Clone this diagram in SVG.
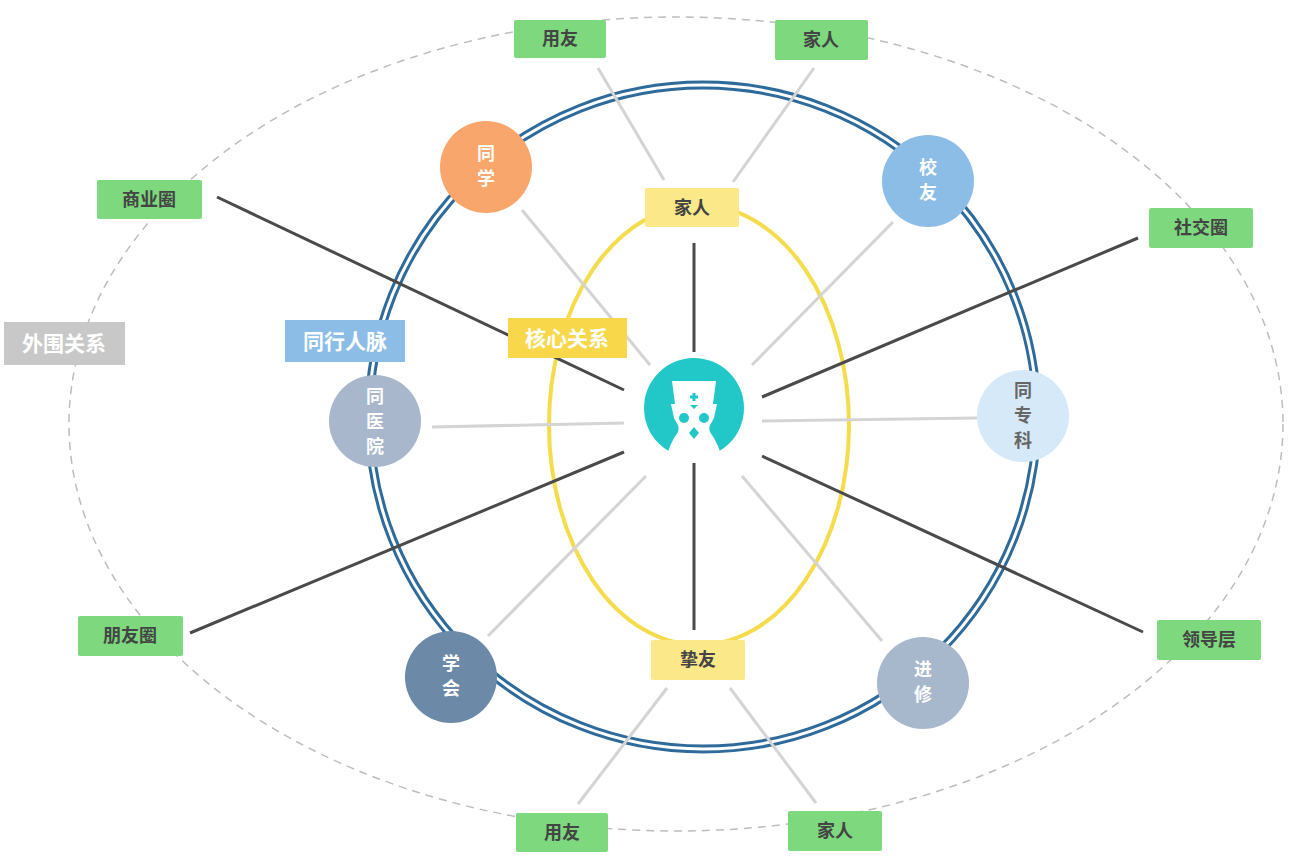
<svg xmlns="http://www.w3.org/2000/svg" width="1292" height="860" viewBox="0 0 1292 860">
<style>
text{font-family:"Liberation Sans","Noto Sans CJK SC",sans-serif;font-weight:bold;text-anchor:middle}
.g rect{fill:#7dd87e}
.g text{fill:#444;font-size:18px}
.y rect{fill:#fbe888}
.y text{fill:#444;font-size:18px}
.c text{fill:#fff;font-size:18px}
.dk{stroke:#4a4a4a;stroke-width:3}
.lt{stroke:#d4d4d4;stroke-width:3}
</style>
<rect width="1292" height="860" fill="#fff"/>
<ellipse cx="676" cy="424" rx="607" ry="407" fill="none" stroke="#bdbdbd" stroke-width="1.5" stroke-dasharray="8 6"/>
<ellipse cx="703" cy="417" rx="337" ry="335" fill="none" stroke="#2e6a9a" stroke-width="3"/>
<ellipse cx="703" cy="417" rx="331" ry="329" fill="none" stroke="#2e6a9a" stroke-width="3"/>
<ellipse cx="699" cy="425" rx="150" ry="220" fill="none" stroke="#f5dc4c" stroke-width="4"/>
<g id="connectors">
<line class="lt" x1="598" y1="68" x2="664" y2="180"/>
<line class="lt" x1="814" y1="68" x2="733" y2="182"/>
<line class="lt" x1="522" y1="210" x2="650" y2="365"/>
<line class="lt" x1="893" y1="222" x2="752" y2="365"/>
<line class="lt" x1="977" y1="418" x2="762" y2="421"/>
<line class="lt" x1="432" y1="427" x2="624" y2="423"/>
<line class="lt" x1="488" y1="636" x2="646" y2="476"/>
<line class="lt" x1="882" y1="641" x2="742" y2="476"/>
<line class="lt" x1="578" y1="804" x2="667" y2="688"/>
<line class="lt" x1="816" y1="803" x2="730" y2="688"/>
<line class="dk" x1="217" y1="197" x2="624" y2="390"/>
<line class="dk" x1="1138" y1="238" x2="762" y2="397"/>
<line class="dk" x1="190" y1="633" x2="624" y2="452"/>
<line class="dk" x1="1143" y1="632" x2="762" y2="456"/>
<line class="dk" x1="694" y1="243" x2="694" y2="352"/>
<line class="dk" x1="694" y1="463" x2="694" y2="630"/>
</g>
<g id="center">
<circle cx="694" cy="408" r="50" fill="#22c8c8"/>
<path d="M672 381 L716 381 L713 404 L717 404 L714 418 C711 424 708 426 710 432 C716 440 720 450 722 458 L666 458 C668 450 672 440 678 432 C680 426 677 424 674 418 L671 404 L675 404 Z" fill="#fff"/>
<path d="M694 393 v8 M690 397 h8" stroke="#22c8c8" stroke-width="3"/>
<path d="M690 405 h8 l-4 4 z M694 427 l5 6 l-5 6 l-5 -6 z" fill="#22c8c8"/>
<circle cx="684" cy="418" r="5" fill="#22c8c8"/><circle cx="704" cy="418" r="5" fill="#22c8c8"/>
</g>
<g id="n-tongxue" class="c"><circle cx="486" cy="167" r="46" fill="#f9a66c"/><text x="486" y="160">同</text><text x="486" y="185">学</text></g>
<g id="n-xiaoyou" class="c"><circle cx="928" cy="181" r="46" fill="#8bbde6"/><text x="928" y="174">校</text><text x="928" y="199">友</text></g>
<g id="n-tongzhuanke" class="c"><circle cx="1023" cy="416" r="46" fill="#d6e9f8"/><text x="1023" y="397" style="fill:#666">同</text><text x="1023" y="422" style="fill:#666">专</text><text x="1023" y="447" style="fill:#666">科</text></g>
<g id="n-tongyiyuan" class="c"><circle cx="375" cy="421" r="46" fill="#a8b7cc"/><text x="375" y="403">同</text><text x="375" y="428">医</text><text x="375" y="453">院</text></g>
<g id="n-xuehui" class="c"><circle cx="451" cy="677" r="46" fill="#6c8aa8"/><text x="451" y="670">学</text><text x="451" y="695">会</text></g>
<g id="n-jinxiu" class="c"><circle cx="923" cy="683" r="46" fill="#a8b8cc"/><text x="923" y="676">进</text><text x="923" y="701">修</text></g>
<g id="g-pengyou1" class="g"><rect x="514" y="20" width="92" height="38" rx="2"/><text x="560" y="45">用友</text></g>
<g id="g-jiaren1" class="g"><rect x="775" y="20" width="93" height="40" rx="2"/><text x="821" y="46">家人</text></g>
<g id="g-shangye" class="g"><rect x="97" y="180" width="105" height="39" rx="2"/><text x="149" y="206">商业圈</text></g>
<g id="g-shejiao" class="g"><rect x="1149" y="208" width="104" height="40" rx="2"/><text x="1201" y="234">社交圈</text></g>
<g id="g-pengyouquan" class="g"><rect x="78" y="616" width="105" height="40" rx="2"/><text x="130" y="642">朋友圈</text></g>
<g id="g-lingdao" class="g"><rect x="1157" y="620" width="104" height="40" rx="2"/><text x="1209" y="646">领导层</text></g>
<g id="g-pengyou2" class="g"><rect x="516" y="813" width="92" height="39" rx="2"/><text x="562" y="839">用友</text></g>
<g id="g-jiaren2" class="g"><rect x="788" y="811" width="94" height="40" rx="2"/><text x="835" y="837">家人</text></g>
<g id="y-jiaren" class="y"><rect x="645" y="188" width="94" height="39" rx="2"/><text x="692" y="214">家人</text></g>
<g id="y-zhiyou" class="y"><rect x="651" y="640" width="94" height="40" rx="2"/><text x="698" y="666">挚友</text></g>
<g id="l-hexin"><rect x="508" y="318" width="119" height="40" fill="#f8d84a"/><text x="567" y="346" fill="#fff" font-size="21">核心关系</text></g>
<g id="l-tonghang"><rect x="285" y="320" width="120" height="42" fill="#8bbde6"/><text x="345" y="349" fill="#fff" font-size="21">同行人脉</text></g>
<g id="l-waiwei"><rect x="4" y="322" width="121" height="43" fill="#c8c8c8"/><text x="64" y="351" fill="#fff" font-size="21">外围关系</text></g>
</svg>
